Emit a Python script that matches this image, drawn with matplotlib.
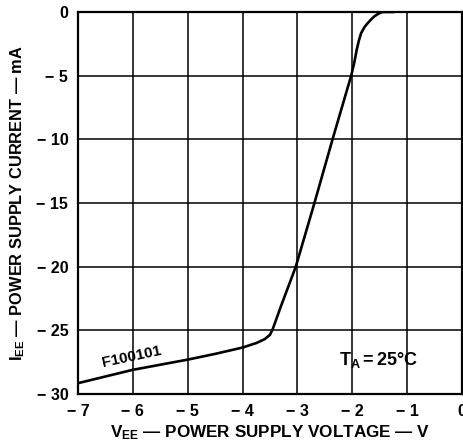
import matplotlib
matplotlib.use("Agg")
import matplotlib.pyplot as plt

plt.rcParams['font.family'] = ['Liberation Sans', 'DejaVu Sans']
plt.rcParams['font.weight'] = 'bold'
plt.rcParams['mathtext.fontset'] = 'custom'
plt.rcParams['mathtext.rm'] = 'Liberation Sans:bold'
plt.rcParams['mathtext.bf'] = 'Liberation Sans:bold'
plt.rcParams['mathtext.it'] = 'Liberation Sans:bold'

# Data
vee = [-7.0, -6.0, -5.0, -4.5, -4.0, -3.75, -3.6, -3.5, -3.45, -3.3, -3.03,
       -2.69, -2.36, -2.02, -1.96, -1.92, -1.88, -1.84, -1.78, -1.72, -1.66,
       -1.60, -1.52, -1.45, -1.24]
iee = [-29.15, -28.1, -27.3, -26.85, -26.35, -26.0, -25.7, -25.35, -24.9, -23.1, -20.0,
       -15.0, -10.0, -5.0, -3.9, -2.98, -2.25, -1.67, -1.2, -0.88, -0.6,
       -0.35, -0.12, 0.0, 0.0]

xticks = [-7, -6, -5, -4, -3, -2, -1, 0]
xtick_labels = ["\u2212 7", "\u2212 6", "\u2212 5", "\u2212 4", "\u2212 3", "\u2212 2", "\u2212 1", "0"]
yticks = [0, -5, -10, -15, -20, -25, -30]
ytick_labels = ["0", "\u2212 5", "\u2212 10", "\u2212 15", "\u2212 20", "\u2212 25", "\u2212 30"]

fig = plt.figure(figsize=(4.63, 4.46), dpi=100)
ax = fig.add_axes([78/463, 1-394/446, 384/463, 382/446])

ax.plot(vee, iee, color='black', lw=1.9, solid_capstyle='round',
        solid_joinstyle='round', zorder=3)

ax.set_xlim(-7, 0)
ax.set_ylim(-30, 0)
ax.set_xticks(xticks)
ax.set_xticklabels(xtick_labels)
ax.set_yticks(yticks)
ax.set_yticklabels(ytick_labels)
ax.tick_params(length=0, labelsize=11.5, pad=7)
for lab in ax.get_xticklabels() + ax.get_yticklabels():
    lab.set_fontweight('bold')

ax.grid(True, color='black', lw=1.1)
ax.set_axisbelow(True)
for s in ax.spines.values():
    s.set_linewidth(1.6)
    s.set_color('black')

ax.set_xlabel("$\\mathbf{V_{EE}}$ \u2014 POWER SUPPLY VOLTAGE \u2014 V",
              fontsize=12.3, fontweight='bold', labelpad=3)
ax.set_ylabel("$\\mathbf{I_{EE}}$ \u2014 POWER SUPPLY CURRENT \u2014 mA",
              fontsize=11.8, fontweight='bold', labelpad=7)

ax.text(-6.02, -27.1, "F100101", rotation=12, fontsize=11, fontweight='bold',
        ha='center', va='center')
ax.text(-1.51, -27.3, "$\\mathbf{T_A = 25°C}$", fontsize=13, ha='center', va='center')

fig.savefig("out.png", dpi=100)
